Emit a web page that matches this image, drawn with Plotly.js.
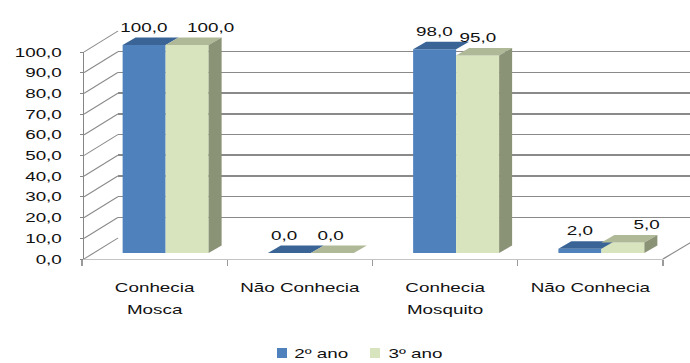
<!DOCTYPE html>
<html><head><meta charset="utf-8">
<script src="https://cdn.plot.ly/plotly-3.0.1.min.js"></script>
<style>
html,body{margin:0;padding:0;overflow:hidden;background:#fff;width:690px;height:363px}
#wrap{width:476px;height:363px;transform:scaleX(1.44958);transform-origin:0 0}
</style></head><body><div id="wrap"><div id="chart" style="width:476px;height:363px"></div></div>
<script>
// ---- data ----
const categories = ['Conhecia Mosca', 'Não Conhecia', 'Conhecia Mosquito', 'Não Conhecia'];
const tickLine1 = ['Conhecia', 'Não Conhecia', 'Conhecia', 'Não Conhecia'];
const tickLine2 = ['Mosca', '', 'Mosquito', ''];
const seriesNames = ['2º ano', '3º ano'];
const values2 = [100, 0, 98, 2];
const values3 = [100, 0, 95, 5];
const yTicks = [0, 10, 20, 30, 40, 50, 60, 70, 80, 90, 100];

// ---- styling / geometry ----
const S = 690 / 476;              // horizontal stretch of the whole picture
const fx = px => px / 690;
const fy = py => 1 - py / 363;
const FONT = 'Liberation Sans, Arial, sans-serif';
const FS = 13;
const TXT = '#111';
const col2 = {front: '#4f81bd', top: '#3a6496'};
const col3 = {front: '#d7e4bd', top: '#b0b997', side: '#8b9377'};
const labelNudge2 = [0, -5, 0, 0];      // px, data-label nudges
const labelNudge3 = [24, -2, 0, 24];
const idx = categories.map((c, i) => i);
const barW = 0.296;               // width of one bar (category units)
const depthX = 13 / 145.25;       // depth of the 3D faces in category units
const depthY = 7.5 / 2.08;        // depth of the 3D faces in value units

const fmt = v => v.toFixed(1).replace('.', ',');

const traces = [
  {type: 'bar', name: seriesNames[0], x: idx, y: values2, xaxis: 'x3', yaxis: 'y3',
   marker: {color: col2.front, line: {width: 0}}, hoverinfo: 'skip', showlegend: false},
  {type: 'bar', name: seriesNames[1], x: idx, y: values3, xaxis: 'x3', yaxis: 'y3',
   marker: {color: col3.front, line: {width: 0}}, hoverinfo: 'skip', showlegend: false},
  {type: 'scatter', x: [0.5], y: [50], xaxis: 'x', yaxis: 'y', mode: 'markers',
   marker: {opacity: 0}, showlegend: false, hoverinfo: 'skip'},
  {type: 'scatter', x: [0], y: [0], xaxis: 'x2', yaxis: 'y2', mode: 'markers',
   marker: {opacity: 0}, showlegend: false, hoverinfo: 'skip'},
  {type: 'scatter', x: [0], y: [0], xaxis: 'x4', yaxis: 'y2', mode: 'markers',
   marker: {opacity: 0}, showlegend: false, hoverinfo: 'skip'},
  {type: 'scatter', x: [0], y: [0], xaxis: 'x5', yaxis: 'y2', mode: 'markers',
   marker: {opacity: 0}, showlegend: false, hoverinfo: 'skip'}
];

const shapes = [];
// 3D faces of the bars
function topFace(x0, x1, v, color) {
  shapes.push({type: 'path', xref: 'x3', yref: 'y3', layer: 'above', line: {width: 0},
    fillcolor: color,
    path: `M${x0},${v} L${x1},${v} L${x1 + depthX},${v + depthY} L${x0 + depthX},${v + depthY} Z`});
}
function sideFace(x1, v, color) {
  shapes.push({type: 'path', xref: 'x3', yref: 'y3', layer: 'above', line: {width: 0},
    fillcolor: color,
    path: `M${x1},0 L${x1},${v} L${x1 + depthX},${v + depthY} L${x1 + depthX},${depthY} Z`});
}
idx.forEach(i => {
  topFace(i - barW, i, values2[i], col2.top);
  topFace(i, i + barW, values3[i], col3.top);
  sideFace(i + barW, values3[i], col3.side);
});
// left side wall: oblique lines from the front value axis to the back wall
const yFront = v => fy(259) + (fy(52) - fy(259)) * v / 100;
const yBack = v => fy(238) + (fy(31) - fy(238)) * v / 100;
yTicks.forEach(v => {
  shapes.push({type: 'line', xref: 'paper', yref: 'paper', x0: fx(84), y0: yFront(v),
    x1: fx(118), y1: yBack(v), line: {color: '#8a8a8a', width: 1}});
});
// floor right edge
shapes.push({type: 'line', xref: 'paper', yref: 'paper', x0: fx(663), y0: yFront(0),
  x1: fx(698), y1: yBack(0), line: {color: '#8a8a8a', width: 1}});

// legend (drawn by hand: small squares close to the text)
const legendItems = [
  {name: seriesNames[0], color: col2.front, sq: 277},
  {name: seriesNames[1], color: col3.front, sq: 370}
];
const annotations = [];
legendItems.forEach(it => {
  shapes.push({type: 'rect', xref: 'paper', yref: 'paper', x0: fx(it.sq), x1: fx(it.sq + 10),
    y0: fy(358), y1: fy(348), fillcolor: it.color, line: {width: 0}});
  annotations.push({xref: 'paper', yref: 'paper', x: fx(it.sq + 15), y: fy(353), xanchor: 'left',
    yanchor: 'middle', text: it.name, showarrow: false, font: {size: FS, color: TXT}});
});

// data labels
idx.forEach(i => {
  annotations.push({xref: 'x3', yref: 'y3', x: i - barW / 2, y: values2[i], text: fmt(values2[i]),
    showarrow: false, yshift: 18, xshift: labelNudge2[i] / S, font: {size: FS, color: TXT}});
  annotations.push({xref: 'x3', yref: 'y3', x: i + barW / 2, y: values3[i], text: fmt(values3[i]),
    showarrow: false, yshift: 18, xshift: labelNudge3[i] / S, font: {size: FS, color: TXT}});
});

const catAxis = (lines, standoff) => ({overlaying: 'x2', anchor: 'y2', side: 'bottom', range: [-0.5, 3.5],
  tickmode: 'array', tickvals: idx, ticktext: lines, ticks: '', showline: false, showgrid: false,
  zeroline: false, ticklabelstandoff: standoff, tickfont: {size: FS, color: TXT}});

const layout = {
  width: 476, height: 363,
  margin: {l: 0, r: 0, t: 0, b: 0, pad: 0},
  paper_bgcolor: '#fff', plot_bgcolor: 'rgba(0,0,0,0)',
  font: {family: FONT, size: FS, color: TXT},
  separators: ',.',
  barmode: 'group', bargap: 0.408, bargroupgap: 0,
  showlegend: false,
  // back wall
  xaxis: {domain: [fx(118), 1], anchor: 'y', range: [0, 1], showgrid: false, showline: false,
          zeroline: false, showticklabels: false, ticks: ''},
  yaxis: {domain: [fy(238), fy(31)], anchor: 'x', range: [0, 100], tickmode: 'array', tickvals: yTicks,
          showgrid: true, gridcolor: '#8a8a8a', gridwidth: 1.5, showticklabels: false, ticks: '',
          zeroline: false, showline: false},
  // front axes
  xaxis2: {domain: [fx(82), fx(663)], anchor: 'y2', range: [-0.5, 3.5], tickmode: 'array',
           tickvals: [-0.5, 0.5, 1.5, 2.5, 3.5], ticktext: ['', '', '', '', ''], ticks: 'outside',
           ticklen: 6, tickcolor: '#9a9a9a', showline: true, linecolor: '#c4c4c4', linewidth: 1,
           showgrid: false, zeroline: false},
  xaxis4: catAxis(tickLine1, 19),
  xaxis5: catAxis(tickLine2, 41),
  yaxis2: {domain: [fy(259), fy(52)], anchor: 'free', position: fx(83), range: [0, 100],
           tickmode: 'array', tickvals: yTicks, tickformat: '.1f', ticks: 'outside', ticklen: 2,
           tickcolor: '#868686', showline: true, linecolor: '#868686', linewidth: 1,
           showgrid: false, zeroline: false, ticklabelstandoff: 10, tickfont: {size: FS, color: TXT}},
  // bars
  xaxis3: {domain: [fx(93), fx(674)], anchor: 'y3', range: [-0.5, 3.5], visible: false},
  yaxis3: {domain: [fy(253), fy(253 - 1.1 * 208)], anchor: 'x3', range: [0, 110], visible: false},
  shapes: shapes,
  annotations: annotations
};

Plotly.newPlot('chart', traces, layout, {staticPlot: true, displayModeBar: false});
</script></body></html>
